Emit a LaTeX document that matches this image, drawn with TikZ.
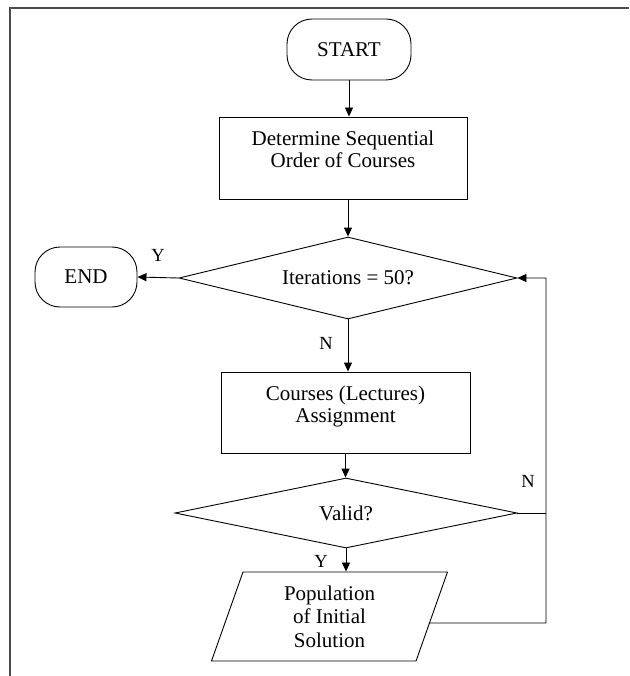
\documentclass[tikz,border=0pt]{standalone}
\usepackage{fontspec}
\setmainfont{Liberation Serif}
\usetikzlibrary{arrows.meta,shapes.geometric}
\newcommand\mlines[2]{{\fontsize{21}{#1}\selectfont\begin{tabular}[t]{@{}c@{}}#2\end{tabular}}}
\begin{document}
\begin{tikzpicture}[x=1pt,y=-1pt,line width=0.9pt,
  frm/.style={line width=1.8pt,draw=black!70},
  txt/.style={inner sep=0pt,anchor=base},
  lbl/.style={inner sep=0pt,anchor=base,font=\fontsize{18.5}{20}\selectfont},
  term/.style={draw,rounded corners=25pt,inner sep=0pt,font=\fontsize{21}{23}\selectfont},
  proc/.style={draw,inner sep=0pt},
  dec/.style={draw,diamond,inner sep=0pt,font=\fontsize{21}{23}\selectfont},
  io/.style={draw,trapezium,trapezium left angle=63,trapezium right angle=117,
    trapezium stretches body=true,inner sep=0pt,align=center,
    font=\fontsize{21}{23.5}\selectfont},
  arr/.style={-{Triangle[length=9pt,width=8pt]}}]
\useasboundingbox (0,0) rectangle (629,676);
\fill[white] (0,0) rectangle (629,676);
\draw[frm] (10,676) -- (10,8) -- (629,8);

\node[term,minimum width=124pt,minimum height=61pt] (start) at (349,49.5) {START};
\node[proc,minimum width=248pt,minimum height=82pt] (det) at (343,158) {};
\node[txt] (dett) at (343,146) {\mlines{22}{Determine Sequential\\Order of Courses}};
\node[dec,aspect=4,minimum width=338pt,minimum height=82pt] (iter) at (348,278) {Iterations = 50?};
\node[term,minimum width=102pt,minimum height=60pt] (end) at (86,277) {END};
\node[proc,minimum width=249pt,minimum height=81pt] (crs) at (345.5,412.5) {};
\node[txt] (crst) at (345.5,400) {\mlines{22}{Courses (Lectures)\\Assignment}};
\node[dec,aspect=4.9,minimum width=342pt,minimum height=70pt] (valid) at (346,513) {Valid?};
\node[io,minimum width=236pt,minimum height=89pt] (pop) at (329.5,616.5) {Population\\of Initial\\Solution};

\node[lbl] (ly1) at (158,261) {Y};
\node[lbl] (ln1) at (326,349) {N};
\node[lbl] (ln2) at (528,487) {N};
\node[lbl] (ly2) at (321,567) {Y};

\coordinate (rb) at (546,623);

\draw[arr] (start.south) -- (start.south |- det.north);
\draw[arr] (iter.north |- det.south) -- (iter.north);
\draw[arr] (iter.west) -- (end.east);
\draw[arr] (iter.south) -- (iter.south |- crs.north);
\draw[arr] (crs.south) -- (crs.south |- valid.north);
\draw[arr] (valid.south) -- (valid.south |- pop.north);
\draw (valid.east) -- (valid.east -| rb);
\draw[arr] ([shift={(-3.5,6.5)}]pop.east) -- (rb) |- (iter.east);
\end{tikzpicture}
\end{document}
